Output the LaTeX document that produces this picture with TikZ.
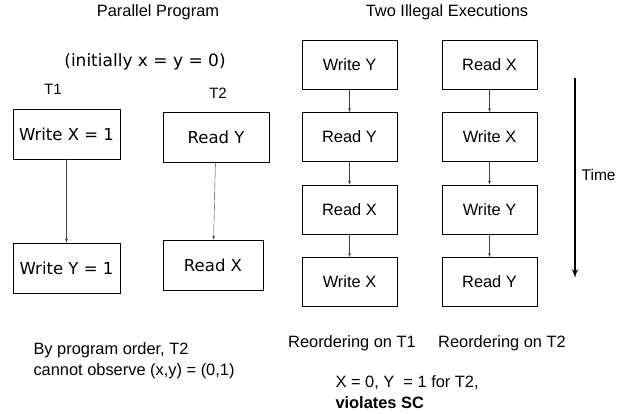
\documentclass[tikz,border=0pt]{standalone}
\usepackage{fontspec}
\setmainfont{Liberation Sans}
\newfontfamily\verdana{DejaVu Sans}
\usetikzlibrary{shapes,arrows,calc}
\tikzstyle{line} = [draw, -latex', black!75]
\tikzstyle{block} = [draw, rectangle, text centered, minimum width=95pt, minimum height=49pt]
\tikzstyle{progblock} = [block, minimum width=107pt, minimum height=50pt, font=\verdana\fontsize{16.5}{19}\selectfont]

\begin{document}
\begin{tikzpicture}[x=1pt, y=-1pt, node distance=72.5pt, font=\fontsize{16.4}{21}\selectfont]
        \useasboundingbox (0,0) rectangle (617,414);
        % the program
        \node (progtitle) at (158,12) {Parallel Program};
        \node[font=\verdana\fontsize{17}{20}\selectfont] (init) at (145,62) {(initially x = y = 0)};
        \node[font=\fontsize{15}{18}\selectfont] (t1) at (53,89) {T1};
        \node[font=\fontsize{15}{18}\selectfont] (t2) at (218,93) {T2};
        \node[progblock] (wx1) at (66.5,134) {Write X = 1};
        \node[progblock] (wy1) at (66.5,268) {Write Y = 1};
        \node[progblock, minimum width=106pt] (ry) at (216,137) {Read Y};
        \node[progblock, minimum width=100pt] (rx) at (213,265) {Read X};
        \path[line] (wx1) -- (wy1);
        \path[line] (ry) -- (rx);
        \node[anchor=west, align=left] (note) at (30,361) {By program order, T2\\cannot observe (x,y) = (0,1)};
        % the two executions
        \node (exectitle) at (447,12) {Two Illegal Executions};
        \node[block] (a1) at (349.5,64.5) {Write Y};
        \node[block, below of=a1] (a2) {Read Y};
        \node[block, below of=a2] (a3) {Read X};
        \node[block, below of=a3] (a4) {Write X};
        \node[block] (b1) at (489.5,64.5) {Read X};
        \node[block, below of=b1] (b2) {Write X};
        \node[block, below of=b2] (b3) {Write Y};
        \node[block, below of=b3] (b4) {Read Y};
        \path[line] (a1) -- (a2);
        \path[line] (a2) -- (a3);
        \path[line] (a3) -- (a4);
        \path[line] (b1) -- (b2);
        \path[line] (b2) -- (b3);
        \path[line] (b3) -- (b4);
        \node (reord1) at (352,343) {Reordering on T1};
        \node (reord2) at (502,343) {Reordering on T2};
        \node[anchor=west, align=left] (verdict) at (332,392) {X = 0, Y \ = 1 for T2,\\\textbf{violates SC}};
        % time axis
        \coordinate (tstart) at (575,78);
        \coordinate (tend) at (575,278);
        \draw[line width=2pt, -latex'] (tstart) -- (tend);
        \node[anchor=west, inner sep=0pt, font=\fontsize{15.5}{18}\selectfont] (time) at (581.5,175) {Time};
\end{tikzpicture}
\end{document}
